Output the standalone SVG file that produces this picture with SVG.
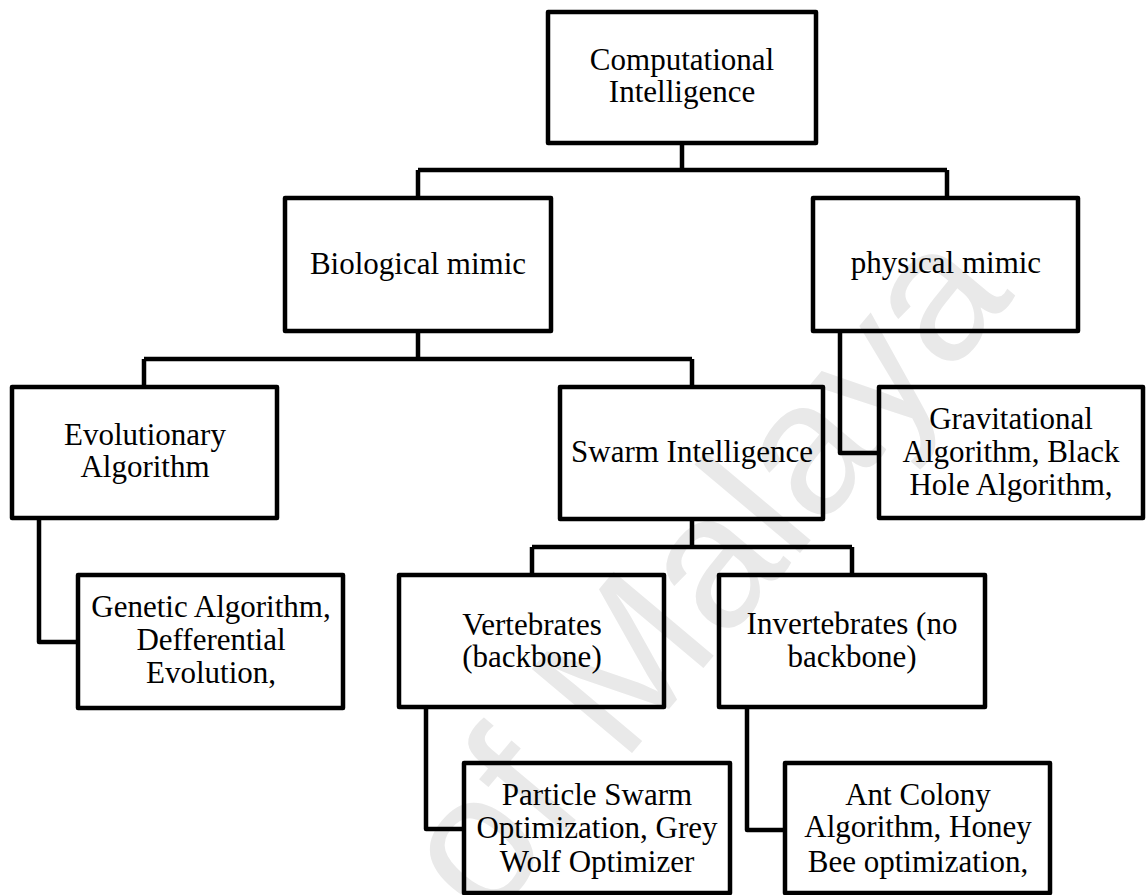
<svg xmlns="http://www.w3.org/2000/svg" width="1146" height="895" viewBox="0 0 1146 895">
<style>
.box{fill:none;stroke:#000;stroke-width:4.5;stroke-linejoin:round}
.con{fill:none;stroke:#000;stroke-width:4.5;stroke-linejoin:round}
.t{font-family:"Liberation Serif","Times New Roman",serif;font-size:31px;fill:#000;text-anchor:middle}
.wm{font-family:"Liberation Sans",Arial,sans-serif;font-size:190px;fill:#e9e9e9}
</style>
<rect width="1146" height="895" fill="#fff"/>
<text class="wm" transform="translate(622,765) rotate(-50)" x="-1098" y="0">University of Malaya</text>
<g id="connectors">
<path class="con" d="M682,143 V170 M418,170 H947 M418,170 V198 M947,170 V198"/>
<path class="con" d="M418,331 V359 M144,359 H692 M144,359 V387 M692,359 V387"/>
<path class="con" d="M840,331 V453 H879"/>
<path class="con" d="M39,518 V642 H78"/>
<path class="con" d="M692,519 V547 M532,547 H852 M532,547 V575 M852,547 V575"/>
<path class="con" d="M426,707 V829 H464"/>
<path class="con" d="M747,707 V830 H785"/>
</g>
<g id="computational-intelligence">
<rect class="box" x="548" y="12" width="268" height="131"/>
<text class="t" x="682" y="70">Computational</text>
<text class="t" x="682" y="102">Intelligence</text>
</g>
<g id="biological-mimic">
<rect class="box" x="285" y="198" width="266" height="133"/>
<text class="t" x="418" y="274">Biological mimic</text>
</g>
<g id="physical-mimic">
<rect class="box" x="813" y="198" width="265" height="133"/>
<text class="t" x="946" y="273">physical mimic</text>
</g>
<g id="evolutionary-algorithm">
<rect class="box" x="12" y="387" width="265" height="131"/>
<text class="t" x="145" y="445">Evolutionary</text>
<text class="t" x="145" y="477">Algorithm</text>
</g>
<g id="swarm-intelligence">
<rect class="box" x="560" y="387" width="263" height="132"/>
<text class="t" x="692" y="462">Swarm Intelligence</text>
</g>
<g id="gravitational">
<rect class="box" x="879" y="387" width="264" height="131"/>
<text class="t" x="1011" y="429">Gravitational</text>
<text class="t" x="1011" y="462">Algorithm, Black</text>
<text class="t" x="1011" y="495">Hole Algorithm,</text>
</g>
<g id="genetic">
<rect class="box" x="78" y="575" width="265" height="133"/>
<text class="t" x="211" y="617">Genetic Algorithm,</text>
<text class="t" x="211" y="650">Defferential</text>
<text class="t" x="211" y="683">Evolution,</text>
</g>
<g id="vertebrates">
<rect class="box" x="399" y="575" width="265" height="132"/>
<text class="t" x="532" y="635">Vertebrates</text>
<text class="t" x="532" y="667">(backbone)</text>
</g>
<g id="invertebrates">
<rect class="box" x="719" y="575" width="266" height="132"/>
<text class="t" x="852" y="634">Invertebrates (no</text>
<text class="t" x="852" y="667">backbone)</text>
</g>
<g id="pso">
<rect class="box" x="464" y="763" width="266" height="130"/>
<text class="t" x="597" y="805">Particle Swarm</text>
<text class="t" x="597" y="838">Optimization, Grey</text>
<text class="t" x="597" y="872">Wolf Optimizer</text>
</g>
<g id="ant-colony">
<rect class="box" x="785" y="763" width="265" height="130"/>
<text class="t" x="918" y="805">Ant Colony</text>
<text class="t" x="918" y="837">Algorithm, Honey</text>
<text class="t" x="918" y="872">Bee optimization,</text>
</g>
</svg>
